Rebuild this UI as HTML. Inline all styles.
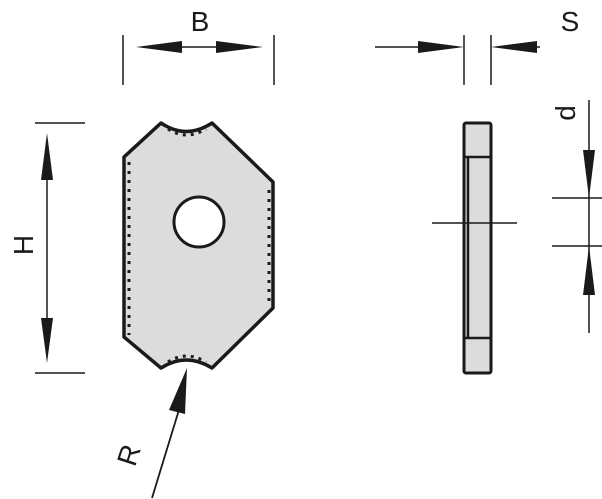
<!DOCTYPE html>
<html><head><style>html,body{margin:0;padding:0;background:#fff}svg{display:block}text{font-family:"Liberation Sans",sans-serif;fill:#1a1a1a}</style></head><body>
<svg width="602" height="499" viewBox="0 0 602 499" xmlns="http://www.w3.org/2000/svg">
<g stroke="#1a1a1a" fill="none">
<path d="M161,123 Q186,140 212,123 L273,182 L273,308 L212,368 Q186,352 161,368 L124,337 L124,157 Z" fill="#dcdcdc" stroke-width="3.5" stroke-linejoin="round"/>
<circle cx="199" cy="222" r="25" fill="#fff" stroke-width="3"/>
<line x1="129" y1="162" x2="129" y2="335" stroke-width="3" stroke-dasharray="3,6"/>
<line x1="269" y1="190" x2="269" y2="305" stroke-width="3" stroke-dasharray="3,6"/>
<path d="M168,129 Q186,141 206,129" stroke-width="3" stroke-dasharray="3,5"/>
<path d="M168,362 Q186,350 206,362" stroke-width="3" stroke-dasharray="3,5"/>
<rect x="464" y="123" width="27" height="250" rx="2" fill="#dcdcdc" stroke-width="3"/>
<line x1="465" y1="157" x2="490" y2="157" stroke-width="2.5"/>
<line x1="465" y1="338" x2="490" y2="338" stroke-width="2.5"/>
<line x1="468" y1="157" x2="468" y2="338" stroke-width="2.5"/>
<line x1="432" y1="223" x2="517" y2="223" stroke-width="1.5"/>
<line x1="123" y1="35" x2="123" y2="85" stroke-width="1.5"/>
<line x1="274" y1="35" x2="274" y2="85" stroke-width="1.5"/>
<line x1="180" y1="47" x2="220" y2="47" stroke-width="1.5"/>
<line x1="464" y1="35" x2="464" y2="85" stroke-width="1.5"/>
<line x1="491" y1="35" x2="491" y2="85" stroke-width="1.5"/>
<line x1="375" y1="47" x2="420" y2="47" stroke-width="1.5"/>
<line x1="535" y1="47" x2="540" y2="47" stroke-width="1.5"/>
<line x1="35" y1="123" x2="85" y2="123" stroke-width="1.5"/>
<line x1="35" y1="373" x2="85" y2="373" stroke-width="1.5"/>
<line x1="47" y1="180" x2="47" y2="320" stroke-width="1.5"/>
<line x1="552" y1="198" x2="602" y2="198" stroke-width="1.5"/>
<line x1="552" y1="246" x2="602" y2="246" stroke-width="1.5"/>
<line x1="589" y1="100" x2="589" y2="333" stroke-width="1.5"/>
<line x1="152" y1="498" x2="182" y2="400" stroke-width="1.8"/>
</g>
<g fill="#1a1a1a">
<polygon points="136,47 182,41 182,53"/>
<polygon points="263,47 216,41 216,53"/>
<polygon points="464,47 418,41 418,53"/>
<polygon points="491,47 537,41 537,53"/>
<polygon points="47,133 41,180 53,180"/>
<polygon points="47,363 41,318 53,318"/>
<polygon points="589,198 583,150 595,150"/>
<polygon points="589,246 583,295 595,295"/>
<polygon points="187,368 169,410 185,414"/>
</g>
<text x="200" y="31" font-size="28" text-anchor="middle">B</text>
<text x="570" y="31" font-size="28" text-anchor="middle">S</text>
<text transform="translate(33,245) rotate(-90)" font-size="28" text-anchor="middle">H</text>
<text transform="translate(575,113) rotate(-90)" font-size="28" text-anchor="middle">d</text>
<text transform="translate(138,458) rotate(-72)" font-size="28" text-anchor="middle">R</text>
</svg>
</body></html>
